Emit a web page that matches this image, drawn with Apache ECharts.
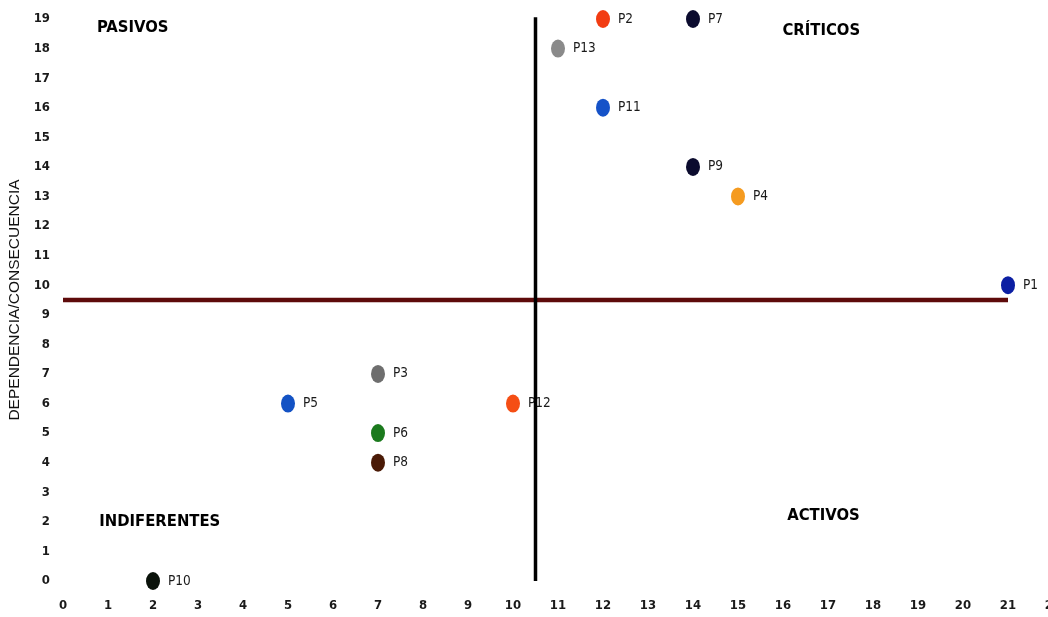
<!DOCTYPE html>
<html><head><meta charset="utf-8">
<script src="https://cdn.jsdelivr.net/npm/echarts@6/dist/echarts.min.js"></script>
<style>html,body{margin:0;padding:0;background:#fff}#c{width:1048px;height:617px}</style>
</head><body><div id="c"></div>
<script>
const names = ['P1','P2','P3','P4','P5','P6','P7','P8','P9','P10','P11','P12','P13'];
const xVals = [21,12,7,15,5,7,14,7,14,2,12,10,11];
const yVals = [10,19,7,13,6,5,19,4,14,0,16,6,18];
const colors = ['#0c1fa3','#f23c12','#6e6e6e','#f59b20','#1352c4','#1b7a1d','#0b0b2e','#4a1a06','#0b0b2e','#0a120a','#1552c8','#f54e14','#8a8a8a'];
const vLine = [[10.5,0],[10.5,19.1]];
const hLine = [[0,9.5],[21,9.5]];
const quadrants = [
  {text:'PASIVOS', x:1.55, y:18.7},
  {text:'CRÍTICOS', x:16.85, y:18.6},
  {text:'INDIFERENTES', x:2.15, y:2.0},
  {text:'ACTIVOS', x:16.9, y:2.2}
];
const yTitle = 'DEPENDENCIA/CONSECUENCIA';

const tickFont = {fontFamily:'DejaVu Sans Condensed', fontSize:13, color:'#1a1a1a', fontWeight:'bold'};
const chart = echarts.init(document.getElementById('c'));
chart.setOption({
  animation:false,
  grid:{left:63, right:-5, top:19, bottom:36, outerBoundsMode:'none', containLabel:false},
  xAxis:{type:'value', min:0, max:22, interval:1,
    axisLine:{show:false}, axisTick:{show:false}, splitLine:{show:false},
    axisLabel:Object.assign({margin:18}, tickFont)},
  yAxis:{type:'value', min:0, max:19, interval:1,
    name:yTitle, nameLocation:'middle', nameGap:40, nameRotate:90,
    nameTextStyle:{fontFamily:'Liberation Sans', fontSize:15.5, color:'#111'},
    axisLine:{show:false}, axisTick:{show:false}, splitLine:{show:false},
    axisLabel:Object.assign({margin:13}, tickFont)},
  series:[
    {type:'scatter', z:2,
     data: names.map((n,i)=>({name:n, value:[xVals[i], yVals[i]], itemStyle:{color:colors[i], opacity:1}})),
     symbol:'circle', symbolSize:[14,18],
     label:{show:true, position:'right', distance:8, formatter:'{b}',
       fontFamily:'DejaVu Sans Condensed', fontSize:13.5, color:'#1a1a1a'}},
    {type:'line', z:5, data:vLine, symbol:'none', lineStyle:{color:'#000', width:3.5, opacity:1}},
    {type:'line', z:4, data:hLine, symbol:'none', lineStyle:{color:'#5e0b0b', width:4.5, opacity:1}},
    {type:'scatter', z:3, symbolSize:0,
     itemStyle:{opacity:1},
     data: quadrants.map(q=>({name:q.text, value:[q.x,q.y]})),
     label:{show:true, position:'inside', formatter:'{b}',
       fontFamily:'DejaVu Sans Condensed', fontWeight:'bold', fontSize:16.5, color:'#000'}}
  ]
});
</script></body></html>
